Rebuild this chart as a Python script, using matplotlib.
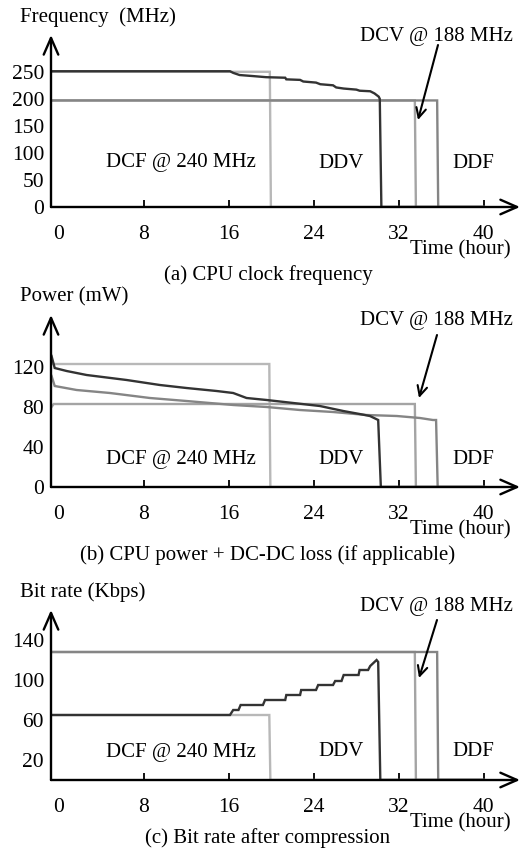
import matplotlib
matplotlib.use("Agg")
import matplotlib.pyplot as plt
from matplotlib.patches import FancyArrowPatch

plt.rcParams['font.family'] = ['Liberation Serif', 'DejaVu Serif']
plt.rcParams['font.size'] = 15

# ---- data (x in hours) ----
# (a) CPU clock frequency (MHz)
a_dcf_t = [-0.75, 19.85, 19.95, 40]
a_dcf_v = [250, 250, 0, 0]
a_dcv_t = [-0.75, 33.5, 33.6, 40]
a_dcv_v = [197, 197, 0, 0]
a_ddf_t = [-0.75, 35.6, 35.7, 40]
a_ddf_v = [197, 197, 0, 0]
a_ddv_t = [-0.75, 16.1, 16.4, 17.0, 18.3, 19.5, 21.3, 21.4, 22.7, 23.0, 24.2, 24.6,
           25.8, 26.1, 26.8, 28.0, 28.3, 29.3, 29.7, 30.1, 30.2, 30.35, 40]
a_ddv_v = [251, 251, 248, 244, 242, 240, 239, 236, 235, 232, 230, 227,
           225, 221, 219, 217, 215, 214, 210, 204, 200, 0, 0]

# (b) CPU power + DC-DC loss (mW)
b_dcf_t = [-0.75, 19.8, 19.9, 40]
b_dcf_v = [123, 123, 0, 0]
b_dcv_t = [-0.7, -0.5, 33.5, 33.6, 40]
b_dcv_v = [80, 83, 83, 0, 0]
b_ddv_t = [-0.7, -0.4, 0.72, 2.6, 6.37, 9.5, 12.0, 14.84, 16.4, 17.66, 19.55,
           22.05, 24.56, 26.76, 28.3, 29.27, 30.05, 30.3, 40]
b_ddv_v = [131, 119, 116, 112, 107, 102, 99, 96, 94, 89, 87,
           84, 81, 76, 73, 71, 67, 0, 0]
b_ddf_t = [-0.7, -0.4, 1.66, 4.8, 8.56, 12.0, 16.4, 19.55, 22.68, 25.8, 28.96,
           31.8, 33.98, 35.2, 35.5, 35.65, 40]
b_ddf_v = [111, 101, 97, 94, 89, 86, 82, 80, 77, 75, 72,
           71, 69, 67, 67, 0, 0]

# (c) Bit rate after compression (Kbps)
c_dcf_t = [-0.75, 19.8, 19.9, 40]
c_dcf_v = [65, 65, 0, 0]
c_dcv_t = [-0.75, 33.5, 33.6, 40]
c_dcv_v = [128, 128, 0, 0]
c_ddf_t = [-0.75, 35.6, 35.7, 40]
c_ddf_v = [128, 128, 0, 0]
c_ddv_t = [-0.75, 16.1, 16.4, 16.9, 17.1, 19.2, 19.4, 21.3, 21.4, 22.7, 22.8, 24.2,
           24.4, 25.8, 26.0, 26.6, 26.8, 28.2, 28.3, 29.1, 29.3, 29.9, 30.05, 30.25, 40]
c_ddv_v = [65, 65, 70, 70, 75, 75, 80, 80, 85, 85, 90, 90,
           95, 95, 99, 99, 105, 105, 110, 110, 114, 120, 118, 0, 0]

x_ticks = [0, 8, 16, 24, 32, 40]

# layout in pixels from the top-left corner
panels = [
    dict(series=[(a_dcf_t, a_dcf_v), (a_dcv_t, a_dcv_v), (a_ddf_t, a_ddf_v), (a_ddv_t, a_ddv_v)],
         yticks=[0, 50, 100, 150, 200, 250], ylim=318, ylabel="Frequency  (MHz)",
         caption="(a) CPU clock frequency", top=35, axis_y=207,
         dcv_y=36, region_y=163, cap_y=275, arrow=((438, 45), (418, 120))),
    dict(series=[(b_dcf_t, b_dcf_v), (b_dcv_t, b_dcv_v), (b_ddf_t, b_ddf_v), (b_ddv_t, b_ddv_v)],
         yticks=[0, 40, 80, 120], ylim=172, ylabel="Power (mW)",
         caption="(b) CPU power + DC-DC loss (if applicable)", top=315, axis_y=487,
         dcv_y=321, region_y=460, cap_y=555, arrow=((437, 335), (419, 398))),
    dict(series=[(c_dcf_t, c_dcf_v), (c_dcv_t, c_dcv_v), (c_ddf_t, c_ddf_v), (c_ddv_t, c_ddv_v)],
         yticks=[20, 60, 100, 140], ylim=170, ylabel="Bit rate (Kbps)",
         caption="(c) Bit rate after compression", top=610, axis_y=780,
         dcv_y=607, region_y=752, cap_y=838, arrow=((437, 620), (419, 678))),
]

colors = ['#b8b8b8', '#a4a4a4', '#858585', '#333333']
zorders = [2, 3, 3, 4]

W, H = 532, 850
fig = plt.figure(figsize=(W / 100, H / 100), dpi=100)


def fx(x):
    return x / W


def fy(y):
    return 1 - y / H


for p in panels:
    left, right = 51, 520
    y0 = p['axis_y']
    ax = fig.add_axes([fx(left), fy(y0), (right - left) / W, (y0 - p['top']) / H])
    for (t, v), c, z in zip(p['series'], colors, zorders):
        ax.plot(t, v, color=c, lw=1.7, zorder=z, solid_joinstyle='miter')
    ax.set_xlim(-0.75, 43.4)
    ax.set_ylim(0, p['ylim'])
    for s in ax.spines.values():
        s.set_visible(False)
    ax.set_xticks(x_ticks)
    ax.set_yticks(p['yticks'])
    ax.tick_params(axis='x', direction='in', length=5, width=1.3, pad=13, labelsize=15.5)
    ax.tick_params(axis='y', length=0, pad=5, labelsize=15.5)
    ax.xaxis.get_major_ticks()[0].tick1line.set_visible(False)
    ax.patch.set_alpha(0)
    # axis arrows
    arrow = dict(arrowstyle='->,head_length=0.8,head_width=0.35', lw=1.7, color='black',
                 shrinkA=0, shrinkB=0)
    ax.annotate('', xy=(1, 0), xytext=(0, 0), xycoords='axes fraction', arrowprops=arrow,
                annotation_clip=False, zorder=5)
    ax.annotate('', xy=(0, 1), xytext=(0, 0), xycoords='axes fraction', arrowprops=arrow,
                annotation_clip=False, zorder=5)

    fig.text(fx(20), fy(p['top'] - 18), p['ylabel'], va='center', ha='left')
    fig.text(fx(513), fy(p['dcv_y']), "DCV @ 188 MHz", va='center', ha='right')
    fig.text(fx(181), fy(p['region_y']), "DCF @ 240 MHz", va='center', ha='center')
    fig.text(fx(341), fy(p['region_y']), "DDV", va='center', ha='center')
    fig.text(fx(473), fy(p['region_y']), "DDF", va='center', ha='center')
    fig.text(fx(511), fy(y0 + 43), "Time (hour)", va='center', ha='right')
    fig.text(fx(268), fy(p['cap_y']), p['caption'], va='center', ha='center')

    (sx, sy), (ex, ey) = p['arrow']
    fig.add_artist(FancyArrowPatch(
        (fx(sx), fy(sy)), (fx(ex), fy(ey)), transform=fig.transFigure,
        arrowstyle='->,head_length=7,head_width=3.5', lw=1.5, color='black',
        shrinkA=0, shrinkB=0))

fig.savefig("out.png", dpi=100)
